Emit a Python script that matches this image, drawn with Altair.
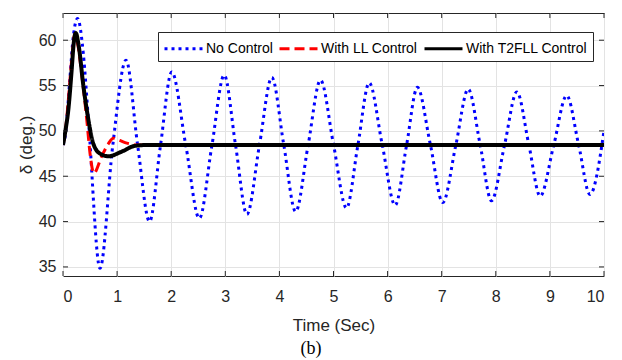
import altair as alt
import pandas as pd

# ---- data ----
nc_t = [0.0, 0.04, 0.13, 0.19, 0.27, 0.376, 0.47, 0.684, 0.92, 1.165, 1.38, 1.60, 1.80, 2.01,
        2.27, 2.52, 2.75, 2.98, 3.19, 3.40, 3.63, 3.86, 4.08, 4.30, 4.53, 4.76, 5.00, 5.24,
        5.45, 5.66, 5.90, 6.14, 6.35, 6.55, 6.79, 7.02, 7.26, 7.49, 7.71, 7.92, 8.16, 8.39,
        8.61, 8.82, 9.07, 9.31, 9.53, 9.74, 10.0]
nc_y = [48.45, 49.4, 56.0, 60.4, 62.4, 58.5, 51.2, 34.85, 48.4, 57.8, 48.4, 40.0, 48.3, 56.5,
        48.4, 40.35, 48.3, 56.15, 48.4, 40.8, 48.4, 55.9, 48.5, 41.1, 48.4, 55.6, 48.5, 41.5,
        48.4, 55.3, 48.5, 41.8, 48.4, 54.8, 48.5, 42.1, 48.4, 54.6, 48.5, 42.3, 48.4, 54.3,
        48.5, 42.8, 48.4, 53.9, 48.5, 43.0, 50.0]

ll_t = [0.0, 0.05, 0.10, 0.16, 0.22, 0.28, 0.345, 0.44, 0.50, 0.57, 0.715, 0.84, 0.93, 1.05,
        1.18, 1.36, 1.6, 10.0]
ll_y = [48.45, 50.3, 53.5, 57.8, 60.7, 59.3, 56.3, 51.2, 47.5, 45.35, 47.2, 48.6, 49.2, 48.95,
        48.65, 48.45, 48.45, 48.45]

t2_t = [0.0, 0.05, 0.098, 0.16, 0.197, 0.235, 0.29, 0.376, 0.47, 0.56, 0.684, 0.84, 1.08,
        1.33, 1.58, 10.0]
t2_y = [48.45, 50.2, 52.3, 56.7, 59.6, 60.8, 59.4, 55.0, 51.2, 48.6, 47.5, 47.2, 47.7,
        48.35, 48.45, 48.45]

series = ["No Control", "With LL Control", "With T2FLL Control"]
colors = ["#0000ff", "#ff0000", "#000000"]
dashes = [[3, 4], [10, 5], [1, 0]]
widths = [3, 3, 4]

x_ticks = list(range(0, 11))
y_ticks = [35, 40, 45, 50, 55, 60]

W, H = 541, 263
FONT = "Liberation Sans"
AX = "#262626"

def frame(t, y, name):
    return pd.DataFrame({"t": t, "y": y, "series": name})

dfs = [frame(nc_t, nc_y, series[0]), frame(ll_t, ll_y, series[1]), frame(t2_t, t2_y, series[2])]

xs = alt.Scale(domain=[0, 10], nice=False)
ys = alt.Scale(domain=[34, 63], nice=False)
cs = alt.Scale(domain=series, range=colors)
ds = alt.Scale(domain=series, range=dashes)

xaxis = alt.Axis(values=x_ticks, title="Time (Sec)", grid=True, ticks=False, tickSize=0,
                 domain=False, labelPadding=12, titlePadding=13)
yaxis = alt.Axis(values=y_ticks, title="δ (deg.)", grid=True, ticks=False, tickSize=0,
                 domain=False, labelPadding=7, titlePadding=3)

legend = alt.Legend(title=None, orient="none", direction="horizontal",
                    legendX=95, legendY=19, symbolType="M-1.9,0L1.9,0",
                    symbolSize=400, symbolStrokeWidth=3, symbolOffset=9,
                    labelFont=FONT, labelFontSize=14, labelColor="black",
                    labelOffset=11, columnPadding=0, padding=5,
                    strokeColor=AX, fillColor="white")

layers = []
for i, df in enumerate(dfs):
    layers.append(
        alt.Chart(df).mark_line(interpolate="monotone", strokeWidth=widths[i], clip=True).encode(
            x=alt.X("t:Q", scale=xs, axis=xaxis),
            y=alt.Y("y:Q", scale=ys, axis=yaxis),
            color=alt.Color("series:N", scale=cs, sort=series, legend=legend),
            strokeDash=alt.StrokeDash("series:N", scale=ds, sort=series, legend=None),
        )
    )

# inward ticks on all four sides (MATLAB box style)
xt = pd.DataFrame({"t": x_ticks})
yt = pd.DataFrame({"y": y_ticks})
tick_bottom = alt.Chart(xt).mark_rule(color=AX, strokeWidth=1).encode(
    x=alt.X("t:Q", scale=xs, axis=xaxis), y=alt.value(H), y2=alt.value(H - 5))
tick_top = alt.Chart(xt).mark_rule(color=AX, strokeWidth=1).encode(
    x=alt.X("t:Q", scale=xs, axis=xaxis), y=alt.value(0), y2=alt.value(5))
tick_left = alt.Chart(yt).mark_rule(color=AX, strokeWidth=1).encode(
    y=alt.Y("y:Q", scale=ys, axis=yaxis), x=alt.value(0), x2=alt.value(5))
tick_right = alt.Chart(yt).mark_rule(color=AX, strokeWidth=1).encode(
    y=alt.Y("y:Q", scale=ys, axis=yaxis), x=alt.value(W), x2=alt.value(W - 5))

caption = alt.Chart(pd.DataFrame({"c": ["(b)"]})).mark_text(
    font="Liberation Serif", fontSize=18, color="black", align="center", baseline="middle"
).encode(text="c:N", x=alt.value(248), y=alt.value(336))

chart = alt.layer(*layers, tick_bottom, tick_top, tick_left, tick_right, caption).properties(
    width=W, height=H,
    background="white",
    autosize=alt.AutoSizeParams(type="none"),
    padding={"left": 63, "top": 13, "right": 18, "bottom": 84},
).configure_view(
    stroke=AX, strokeWidth=1
).configure_axis(
    gridColor="#e3e3e3", gridWidth=1,
    labelFont=FONT, labelFontSize=16, labelColor=AX,
    titleFont=FONT, titleFontSize=17, titleFontWeight="normal", titleColor=AX,
)

chart.save("out.html", embed_options={"renderer": "svg", "actions": False})
